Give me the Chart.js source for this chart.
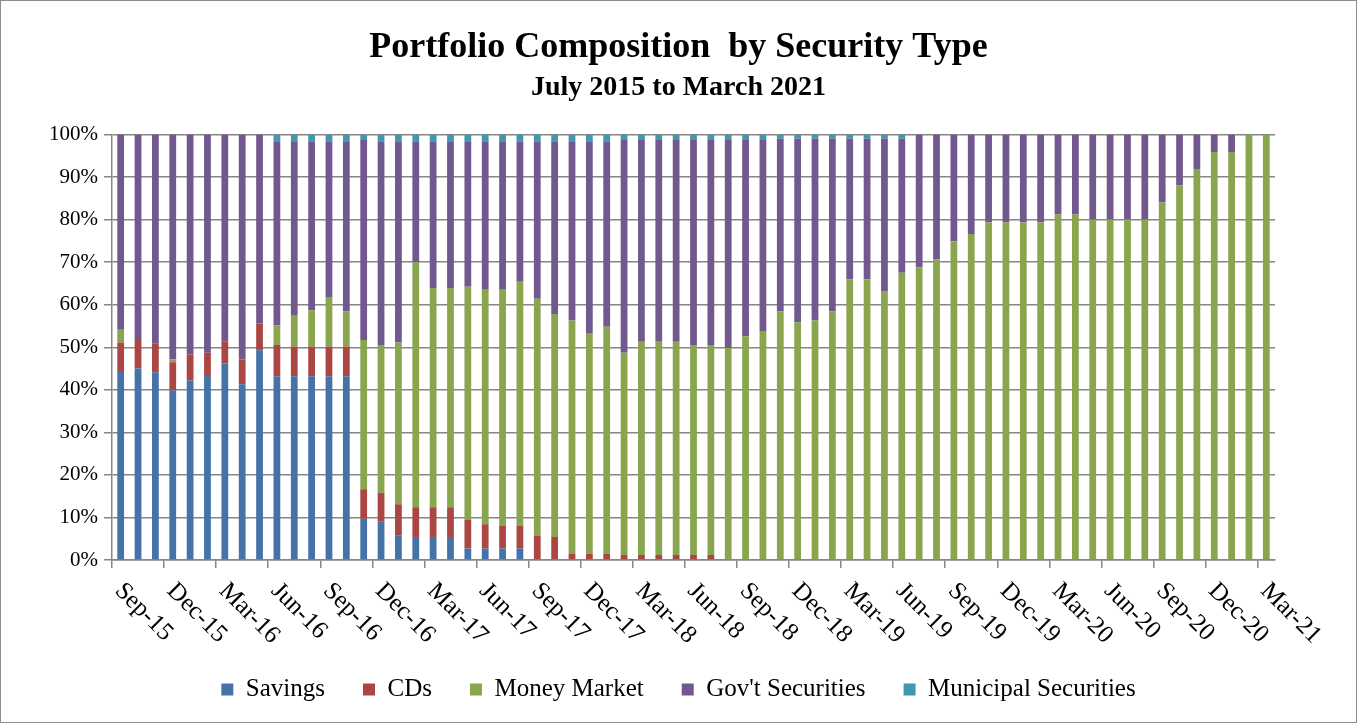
<!DOCTYPE html>
<html>
<head>
<meta charset="utf-8">
<title>Portfolio Composition by Security Type</title>
<script src="https://cdn.jsdelivr.net/npm/chart.js@4.4.1/dist/chart.umd.min.js"></script>
<style>
  body { margin: 0; background: #fff; }
  #wrap { width: 1355px; height: 721px; border: 1px solid #8c8c8c; }
</style>
</head>
<body>
<div id="wrap"><canvas id="chart" width="1355" height="721"></canvas></div>
<script>
const months = [
  'Sep-15', 'Oct-15', 'Nov-15', 'Dec-15', 'Jan-16', 'Feb-16', 'Mar-16', 'Apr-16', 'May-16', 'Jun-16',
  'Jul-16', 'Aug-16', 'Sep-16', 'Oct-16', 'Nov-16', 'Dec-16', 'Jan-17', 'Feb-17', 'Mar-17', 'Apr-17',
  'May-17', 'Jun-17', 'Jul-17', 'Aug-17', 'Sep-17', 'Oct-17', 'Nov-17', 'Dec-17', 'Jan-18', 'Feb-18',
  'Mar-18', 'Apr-18', 'May-18', 'Jun-18', 'Jul-18', 'Aug-18', 'Sep-18', 'Oct-18', 'Nov-18', 'Dec-18',
  'Jan-19', 'Feb-19', 'Mar-19', 'Apr-19', 'May-19', 'Jun-19', 'Jul-19', 'Aug-19', 'Sep-19', 'Oct-19',
  'Nov-19', 'Dec-19', 'Jan-20', 'Feb-20', 'Mar-20', 'Apr-20', 'May-20', 'Jun-20', 'Jul-20', 'Aug-20',
  'Sep-20', 'Oct-20', 'Nov-20', 'Dec-20', 'Jan-21', 'Feb-21', 'Mar-21'
]

// percent of portfolio
const savings = [
  44.4, 45.0, 44.1, 39.9, 42.2, 43.5, 46.2, 41.3, 49.3, 43.2,
  43.2, 43.2, 43.2, 43.2, 9.7, 9.1, 5.7, 5.4, 5.4, 5.4,
  2.7, 2.7, 2.7, 2.7, 0, 0, 0, 0, 0, 0,
  0, 0, 0, 0, 0, 0, 0, 0, 0, 0,
  0, 0, 0, 0, 0, 0, 0, 0, 0, 0,
  0, 0, 0, 0, 0, 0, 0, 0, 0, 0,
  0, 0, 0, 0, 0, 0, 0
]
const cds = [
  6.7, 6.7, 6.7, 6.6, 6.1, 5.2, 5.1, 5.8, 6.3, 7.3,
  7.0, 7.0, 7.0, 7.0, 6.9, 6.7, 7.4, 7.0, 7.0, 7.0,
  6.7, 5.7, 5.4, 5.4, 5.7, 5.4, 1.4, 1.4, 1.4, 1.2,
  1.2, 1.2, 1.2, 1.2, 1.2, 0, 0, 0, 0, 0,
  0, 0, 0, 0, 0, 0, 0, 0, 0, 0,
  0, 0, 0, 0, 0, 0, 0, 0, 0, 0,
  0, 0, 0, 0, 0, 0, 0
]
const moneyMarket = [
  3.0, 0, 0, 0.6, 0, 0, 0, 0, 0, 4.6,
  7.2, 8.5, 11.6, 8.2, 35.1, 34.7, 38.0, 57.5, 51.5, 51.5,
  54.8, 55.1, 55.4, 57.3, 55.7, 52.4, 54.9, 51.8, 53.4, 47.5,
  50.1, 50.1, 50.1, 49.3, 49.3, 49.8, 52.6, 53.8, 58.4, 55.9,
  56.3, 58.4, 66.0, 66.0, 63.2, 67.5, 68.8, 70.6, 74.9, 76.6,
  79.4, 79.4, 79.4, 79.4, 81.2, 81.2, 80.0, 80.0, 80.0, 80.0,
  84.0, 88.0, 91.9, 95.9, 95.9, 100, 100
]
const govSecurities = [
  45.9, 48.3, 49.2, 52.9, 51.7, 51.3, 48.7, 52.9, 44.4, 43.3,
  41.0, 39.7, 36.6, 40.0, 47.0, 47.9, 47.3, 28.5, 34.5, 34.5,
  34.2, 34.9, 34.9, 33.0, 37.0, 40.6, 42.1, 45.2, 43.6, 50.0,
  47.4, 47.4, 47.4, 48.2, 48.2, 48.9, 46.1, 44.9, 40.6, 43.1,
  42.7, 40.6, 33.0, 33.0, 35.8, 31.5, 31.2, 29.4, 25.1, 23.4,
  20.6, 20.6, 20.6, 20.6, 18.8, 18.8, 20.0, 20.0, 20.0, 20.0,
  16.0, 12.0, 8.1, 4.1, 4.1, 0, 0
]
const municipal = [
  0, 0, 0, 0, 0, 0, 0, 0, 0, 1.6,
  1.6, 1.6, 1.6, 1.6, 1.3, 1.6, 1.6, 1.6, 1.6, 1.6,
  1.6, 1.6, 1.6, 1.6, 1.6, 1.6, 1.6, 1.6, 1.6, 1.3,
  1.3, 1.3, 1.3, 1.3, 1.3, 1.3, 1.3, 1.3, 1.0, 1.0,
  1.0, 1.0, 1.0, 1.0, 1.0, 1.0, 0, 0, 0, 0,
  0, 0, 0, 0, 0, 0, 0, 0, 0, 0,
  0, 0, 0, 0, 0, 0, 0
]

const serif = '"Liberation Serif", "Times New Roman", serif'
const gridGray = '#868686'

// Excel-style labels: every 3rd month, rotated 45deg, reading downward
const slantedLabels = {
  id: 'slantedLabels',
  afterDraw(chart) {
    const xs = chart.scales.x
    const ctx = chart.ctx
    ctx.save()
    ctx.font = '25px ' + serif
    ctx.fillStyle = '#000'
    ctx.textAlign = 'left'
    ctx.textBaseline = 'middle'
    months.forEach((m, i) => {
      if (i % 3 !== 0) return
      const x = xs.getPixelForValue(i) - 2
      ctx.save()
      ctx.translate(x, xs.top + 27)
      ctx.rotate(Math.PI / 4)
      ctx.fillText(m, 0, 0)
      ctx.restore()
    })
    ctx.restore()
  },
}

function series(label, data, color) {
  return {
    label,
    data,
    backgroundColor: color,
    borderWidth: 0,
    categoryPercentage: 1,
    barPercentage: 0.39,
  }
}

new Chart(document.getElementById('chart'), {
  type: 'bar',
  data: {
    labels: months,
    datasets: [
      series('Savings', savings, '#4572A7'),
      series('CDs', cds, '#AA4643'),
      series('Money Market', moneyMarket, '#89A54E'),
      series("Gov't Securities", govSecurities, '#71588F'),
      series('Municipal Securities', municipal, '#4198AF'),
    ],
  },
  options: {
    responsive: false,
    animation: false,
    layout: { padding: { top: 0, left: 10, right: 10, bottom: 10 } },
    plugins: {
      title: {
        display: true,
        text: 'Portfolio Composition  by Security Type',
        color: '#000',
        font: { family: serif, size: 36, weight: 'bold' },
        padding: { top: 24.8, bottom: 0 },
      },
      subtitle: {
        display: true,
        text: 'July 2015 to March 2021',
        color: '#000',
        font: { family: serif, size: 28, weight: 'bold' },
        padding: { top: 1.6, bottom: 30.3 },
      },
      legend: {
        position: 'bottom',
        labels: {
          color: '#000',
          font: { family: serif, size: 25 },
          boxWidth: 12,
          boxHeight: 12,
          padding: 38,
        },
      },
      tooltip: { enabled: false },
    },
    scales: {
      x: {
        stacked: true,
        offset: true,
        afterFit: (s) => { s.height = 79 },
        grid: {
          offset: true,
          drawOnChartArea: false,
          tickLength: 8,
          lineWidth: 1.5,
          color: (c) => (c.index % 3 === 0 ? gridGray : 'rgba(0,0,0,0)'),
        },
        border: { color: gridGray, width: 1.5 },
        ticks: { display: false, autoSkip: false },
      },
      y: {
        stacked: true,
        min: 0,
        max: 100,
        afterFit: (s) => { s.width = 101 },
        grid: { color: gridGray, lineWidth: 1.5, tickLength: 8 },
        border: { color: gridGray, width: 1.5 },
        ticks: {
          stepSize: 10,
          padding: 6,
          color: '#000',
          font: { family: serif, size: 21 },
          callback: (v) => v + '%',
        },
      },
      yRight: {
        position: 'right',
        display: true,
        afterFit: (s) => { s.width = 71 },
        grid: { display: false },
        border: { display: false },
        ticks: { display: false },
      },
    },
  },
  plugins: [slantedLabels],
})
</script>
</body>
</html>
